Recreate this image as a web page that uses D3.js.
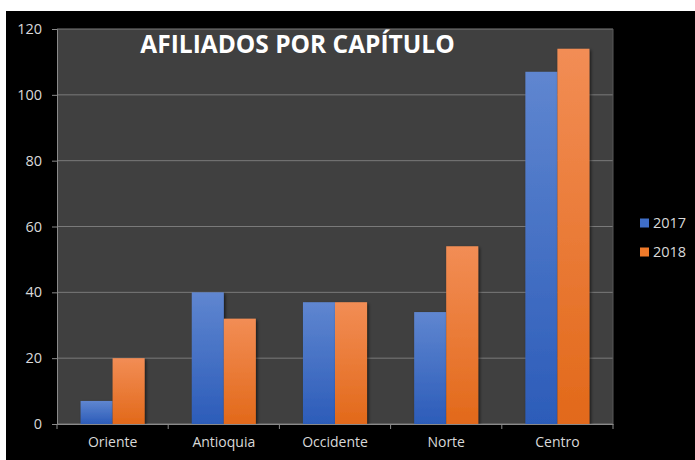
<!DOCTYPE html>
<html><head><meta charset="utf-8">
<script src="https://cdn.jsdelivr.net/npm/d3@7/dist/d3.min.js"></script>
<style>html,body{margin:0;padding:0;background:#fff;}svg{display:block;}</style>
</head><body>
<script>
const categories = ["Oriente","Antioquia","Occidente","Norte","Centro"];
const seriesNames = ["2017","2018"];
const values2017 = [7, 40, 37, 34, 107];
const values2018 = [20, 32, 37, 54, 114];
const yTicks = [0,20,40,60,80,100,120];
const title = "AFILIADOS POR CAPÍTULO";

const W=695,H=460;
const svg=d3.select("body").append("svg").attr("width",W).attr("height",H);
const defs=svg.append("defs");
function grad(id,top,bot){
  const g=defs.append("linearGradient").attr("id",id).attr("x1",0).attr("y1",0).attr("x2",0).attr("y2",1);
  g.append("stop").attr("offset","0%").attr("stop-color",top);
  g.append("stop").attr("offset","100%").attr("stop-color",bot);
}
grad("gBlue","#5f86d0","#2c5cb9");
grad("gOrange","#f28d55","#e2691a");
const f=defs.append("filter").attr("id","sh").attr("x","-20%").attr("y","-20%").attr("width","150%").attr("height","150%");
f.append("feDropShadow").attr("dx",1.5).attr("dy",1.5).attr("stdDeviation",1.5).attr("flood-color","#000").attr("flood-opacity",0.6);

svg.append("rect").attr("x",6).attr("y",11).attr("width",689).attr("height",449).attr("fill","#000");

const m={l:57,t:29,r:613,b:424};
const x=d3.scaleBand().domain(categories).range([m.l,m.r]).paddingInner(0.424).paddingOuter(0.212);
const xs=d3.scaleBand().domain(seriesNames).range([0,x.bandwidth()]);
const y=d3.scaleLinear().domain([0,120]).range([m.b,m.t]);

svg.append("rect").attr("x",m.l).attr("y",m.t).attr("width",m.r-m.l).attr("height",m.b-m.t).attr("fill","#404040");

// grid
svg.append("g").selectAll("line").data(yTicks).join("line")
  .attr("x1",m.l).attr("x2",m.r).attr("y1",d=>y(d)).attr("y2",d=>y(d))
  .attr("stroke","#7a7a7a").attr("stroke-width",1);
svg.append("line").attr("x1",m.r).attr("x2",m.r).attr("y1",m.t).attr("y2",m.b).attr("stroke","#595959");

// bars
const data=categories.map((c,i)=>({c,vals:[{s:"2017",v:values2017[i]},{s:"2018",v:values2018[i]}]}));
const gB=svg.append("g").selectAll("g").data(data).join("g").attr("transform",d=>`translate(${x(d.c)},0)`);
gB.selectAll("rect").data(d=>d.vals).join("rect")
  .attr("x",d=>xs(d.s)).attr("width",xs.bandwidth())
  .attr("y",d=>y(d.v)).attr("height",d=>y(0)-y(d.v))
  .attr("fill",d=>d.s==="2017"?"url(#gBlue)":"url(#gOrange)")
  .attr("filter","url(#sh)");

// y axis
const ya=svg.append("g").attr("transform",`translate(${m.l},0)`)
  .call(d3.axisLeft(y).tickValues(yTicks).tickSize(5).tickPadding(10));
ya.select(".domain").attr("stroke","#8a8a8a");
ya.selectAll(".tick line").attr("stroke","#8a8a8a");
ya.selectAll("text").attr("fill","#d9d9d9").attr("font-family","'Open Sans',sans-serif").attr("font-size",14.5);

// x axis
const xa=svg.append("g").attr("transform",`translate(0,${m.b})`)
  .call(d3.axisBottom(x).tickSize(0).tickPadding(13));
xa.select(".domain").attr("stroke","#8a8a8a");
xa.selectAll("text").attr("fill","#d9d9d9").attr("font-family","'Open Sans',sans-serif").attr("font-size",14);
const bounds=[m.l].concat(categories.map(c=>x(c)+x.bandwidth()+x.step()*x.paddingInner()/2));
bounds[bounds.length-1]=m.r;
xa.append("g").selectAll("line").data(bounds).join("line")
  .attr("x1",d=>d).attr("x2",d=>d).attr("y1",0).attr("y2",5).attr("stroke","#8a8a8a");

// title
svg.append("text").attr("x",297.5).attr("y",53).attr("text-anchor","middle")
  .attr("fill","#fff").attr("font-family","'Open Sans',sans-serif").attr("font-weight","bold")
  .attr("font-size",24.5).text(title);

// legend
const lg=svg.append("g").selectAll("g").data(seriesNames).join("g")
  .attr("transform",(d,i)=>`translate(640,${223+i*29})`);
lg.append("rect").attr("x",0).attr("y",-4.5).attr("width",9).attr("height",9)
  .attr("fill",(d,i)=>i===0?"#3f6ec8":"#ef7a2a");
lg.append("text").attr("x",13).attr("y",0).attr("dy","0.36em").attr("fill","#d9d9d9")
  .attr("font-family","'Open Sans',sans-serif").attr("font-size",14.5).text(d=>d);
</script>
</body></html>
